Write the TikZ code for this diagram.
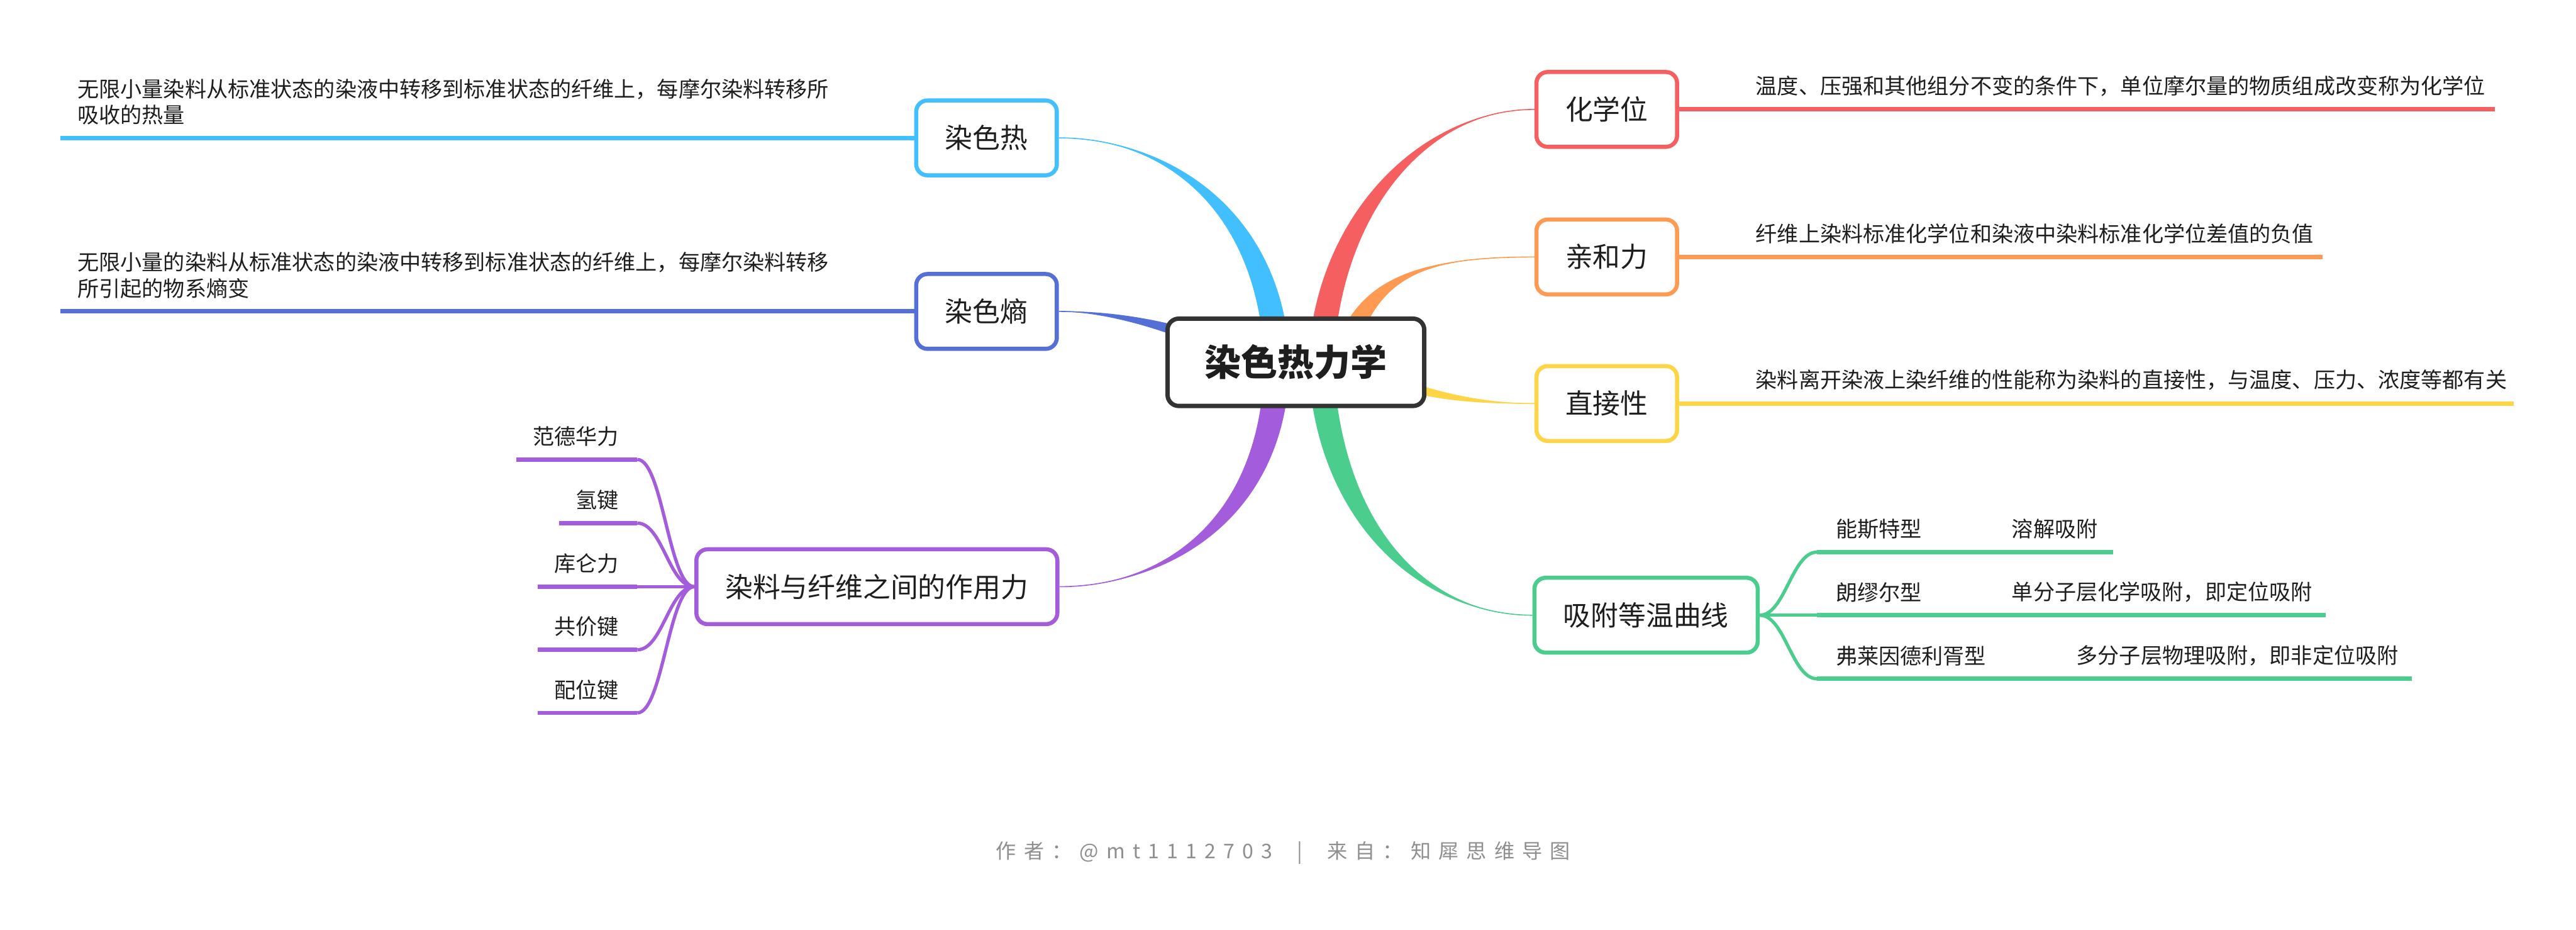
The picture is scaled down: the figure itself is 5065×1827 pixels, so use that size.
\documentclass[tikz,border=0pt]{standalone}
\usepackage{fontspec}
\setmainfont{Noto Sans CJK SC}
\usetikzlibrary{calc,backgrounds}
\definecolor{tian}{HTML}{42BFFE}
\definecolor{lan}{HTML}{5470D6}
\definecolor{zi}{HTML}{A35DDC}
\definecolor{hong}{HTML}{F65F5F}
\definecolor{cheng}{HTML}{FF9A52}
\definecolor{huang}{HTML}{FFD548}
\definecolor{lv}{HTML}{4ACD8D}
\definecolor{mo}{HTML}{333333}
\definecolor{hui}{HTML}{8F8F8F}
\definecolor{zifu}{HTML}{1E1E1E}
% tapered main branch: colour, start, control 1, control 2, end, half width
\newcommand{\zhi}[6]{%
  \fill[#1] ($#2+#6$) .. controls ($#3+#6$) and ($#4+0.15*#6$) .. #5
    .. controls ($#4-0.15*#6$) and ($#3-#6$) .. ($#2-#6$) -- cycle;
  \draw[#1, line width=0.02cm] #2 .. controls #3 and #4 .. #5;}

\begin{document}
\begin{tikzpicture}[x=0.01cm, y=-0.01cm, font=\fontsize{12}{14.5}\selectfont, text=zifu,
  gen/.style={draw=mo, line width=0.085cm, rounded corners=0.22cm, fill=white, inner xsep=0.73cm, minimum height=1.715cm, font=\fontsize{20.4}{24}\selectfont\bfseries},
  ke/.style={draw=#1, line width=0.08cm, rounded corners=0.22cm, fill=white, inner xsep=0.57cm, minimum height=1.47cm, font=\fontsize{15.4}{18}\selectfont},
  xian/.style={#1, line width=0.085cm},
  qu/.style={#1, line width=0.065cm},
  shuo/.style={inner sep=0pt, align=left}]
\useasboundingbox (0,0) rectangle (5065,1827);

\node[gen] (root) at (2548,712) {染色热力学};
\node[ke=tian, anchor=east] (heat) at (2082,271) {染色热};
\node[ke=lan, anchor=east] (entropy) at (2082,612) {染色熵};
\node[ke=zi, anchor=east] (force) at (2083,1153) {染料与纤维之间的作用力};
\node[ke=hong, anchor=west] (chem) at (3017,215) {化学位};
\node[ke=cheng, anchor=west] (affin) at (3017,505) {亲和力};
\node[ke=huang, anchor=west] (direct) at (3017,793) {直接性};
\node[ke=lv, anchor=west] (iso) at (3013,1209) {吸附等温曲线};

\coordinate (rl) at ($(root)+(-37,0)$);
\coordinate (rr) at ($(root)+(49,0)$);
\coordinate (ro) at ($(root)+(92,0)$);
\coordinate (ry) at ($(root)+(142,23)$);
\coordinate (rb) at ($(root)+(-128,-22)$);
\coordinate (heatend) at (119,271);
\coordinate (entend) at (119,612);
\coordinate (chemend) at (4906,215);
\coordinate (affinend) at (4567,505);
\coordinate (directend) at (4942,793);

\begin{scope}[on background layer]
  \fill[white] (0,0) rectangle (5065,1827);
  \zhi{tian}{(rl)}{(2500,420)}{(2300,271)}{(heat.east)}{(25,0)}
  \zhi{lan}{(rb)}{(2330,650)}{(2200,612)}{(entropy.east)}{(0,14)}
  \zhi{zi}{(rl)}{(2505,1030)}{(2280,1153)}{(force.east)}{(25,0)}
  \zhi{hong}{(rr)}{(2610,420)}{(2800,215)}{(chem.west)}{(25,0)}
  \zhi{cheng}{(ro)}{(2680,540)}{(2800,505)}{(affin.west)}{(22,0)}
  \zhi{huang}{(ry)}{(2790,770)}{(2880,793)}{(direct.west)}{(0,12)}
  \zhi{lv}{(rr)}{(2610,1030)}{(2800,1209)}{(iso.west)}{(25,0)}
  \draw[xian=tian] (heat.west) -- (heatend);
  \draw[xian=lan] (entropy.west) -- (entend);
  \draw[xian=hong] (chem.east) -- (chemend);
  \draw[xian=cheng] (affin.east) -- (affinend);
  \draw[xian=huang] (direct.east) -- (directend);
\end{scope}

\node[shuo, anchor=south west] (heattxt) at ($(heatend)+(33,-25)$) {无限小量染料从标准状态的染液中转移到标准状态的纤维上，每摩尔染料转移所\\吸收的热量};
\node[shuo, anchor=south west] (enttxt) at ($(entend)+(33,-25)$) {无限小量的染料从标准状态的染液中转移到标准状态的纤维上，每摩尔染料转移\\所引起的物系熵变};
\node[shuo, anchor=south west] (chemtxt) at ($(chem.east)+(150,-25)$) {温度、压强和其他组分不变的条件下，单位摩尔量的物质组成改变称为化学位};
\node[shuo, anchor=south west] (affintxt) at ($(affin.east)+(150,-25)$) {纤维上染料标准化学位和染液中染料标准化学位差值的负值};
\node[shuo, anchor=south west] (directtxt) at ($(direct.east)+(150,-25)$) {染料离开染液上染纤维的性能称为染料的直接性，与温度、压力、浓度等都有关};

% forces between dye and fibre
\coordinate (pk) at (1253,1153);
\foreach \y/\t/\n in {903/范德华力/fan, 1028/氢键/qing, 1153/库仑力/ku, 1277/共价键/gong, 1401/配位键/pei}{
  \node[shuo, anchor=south east] (t\n) at (1217,\y-25) {\t};
  \coordinate (\n) at ($(t\n.south west)+(-32,25)$);
  \draw[qu=zi] (force.west) .. controls +(-50,0) and +(50,0) .. (pk |- \n);
  \draw[xian=zi] (pk |- \n) -- (\n);
}

% isotherm types
\coordinate (gk) at (3573,1209);
\foreach \y/\a/\b/\bx/\ex/\n in {1085/能斯特型/溶解吸附/3955/4155/ns, 1209/朗缪尔型/单分子层化学吸附，即定位吸附/3955/4573/lm, 1334/弗莱因德利胥型/多分子层物理吸附，即非定位吸附/4082/4742/fl}{
  \coordinate (\n) at (\ex,\y);
  \node[shuo, anchor=south west] (a\n) at (3609,\y-25) {\a};
  \node[shuo, anchor=south west] (b\n) at (\bx,\y-25) {\b};
  \draw[qu=lv] (iso.east) .. controls +(50,0) and +(-50,0) .. (gk |- \n);
  \draw[xian=lv] (gk |- \n) -- (\n);
}

\node[text=hui, font=\fontsize{11.3}{13}\selectfont\addfontfeature{LetterSpace=38}] (zuozhe) at (2523,1676) {作者：@mt1112703 \ | \ 来自：知犀思维导图};
\end{tikzpicture}
\end{document}
